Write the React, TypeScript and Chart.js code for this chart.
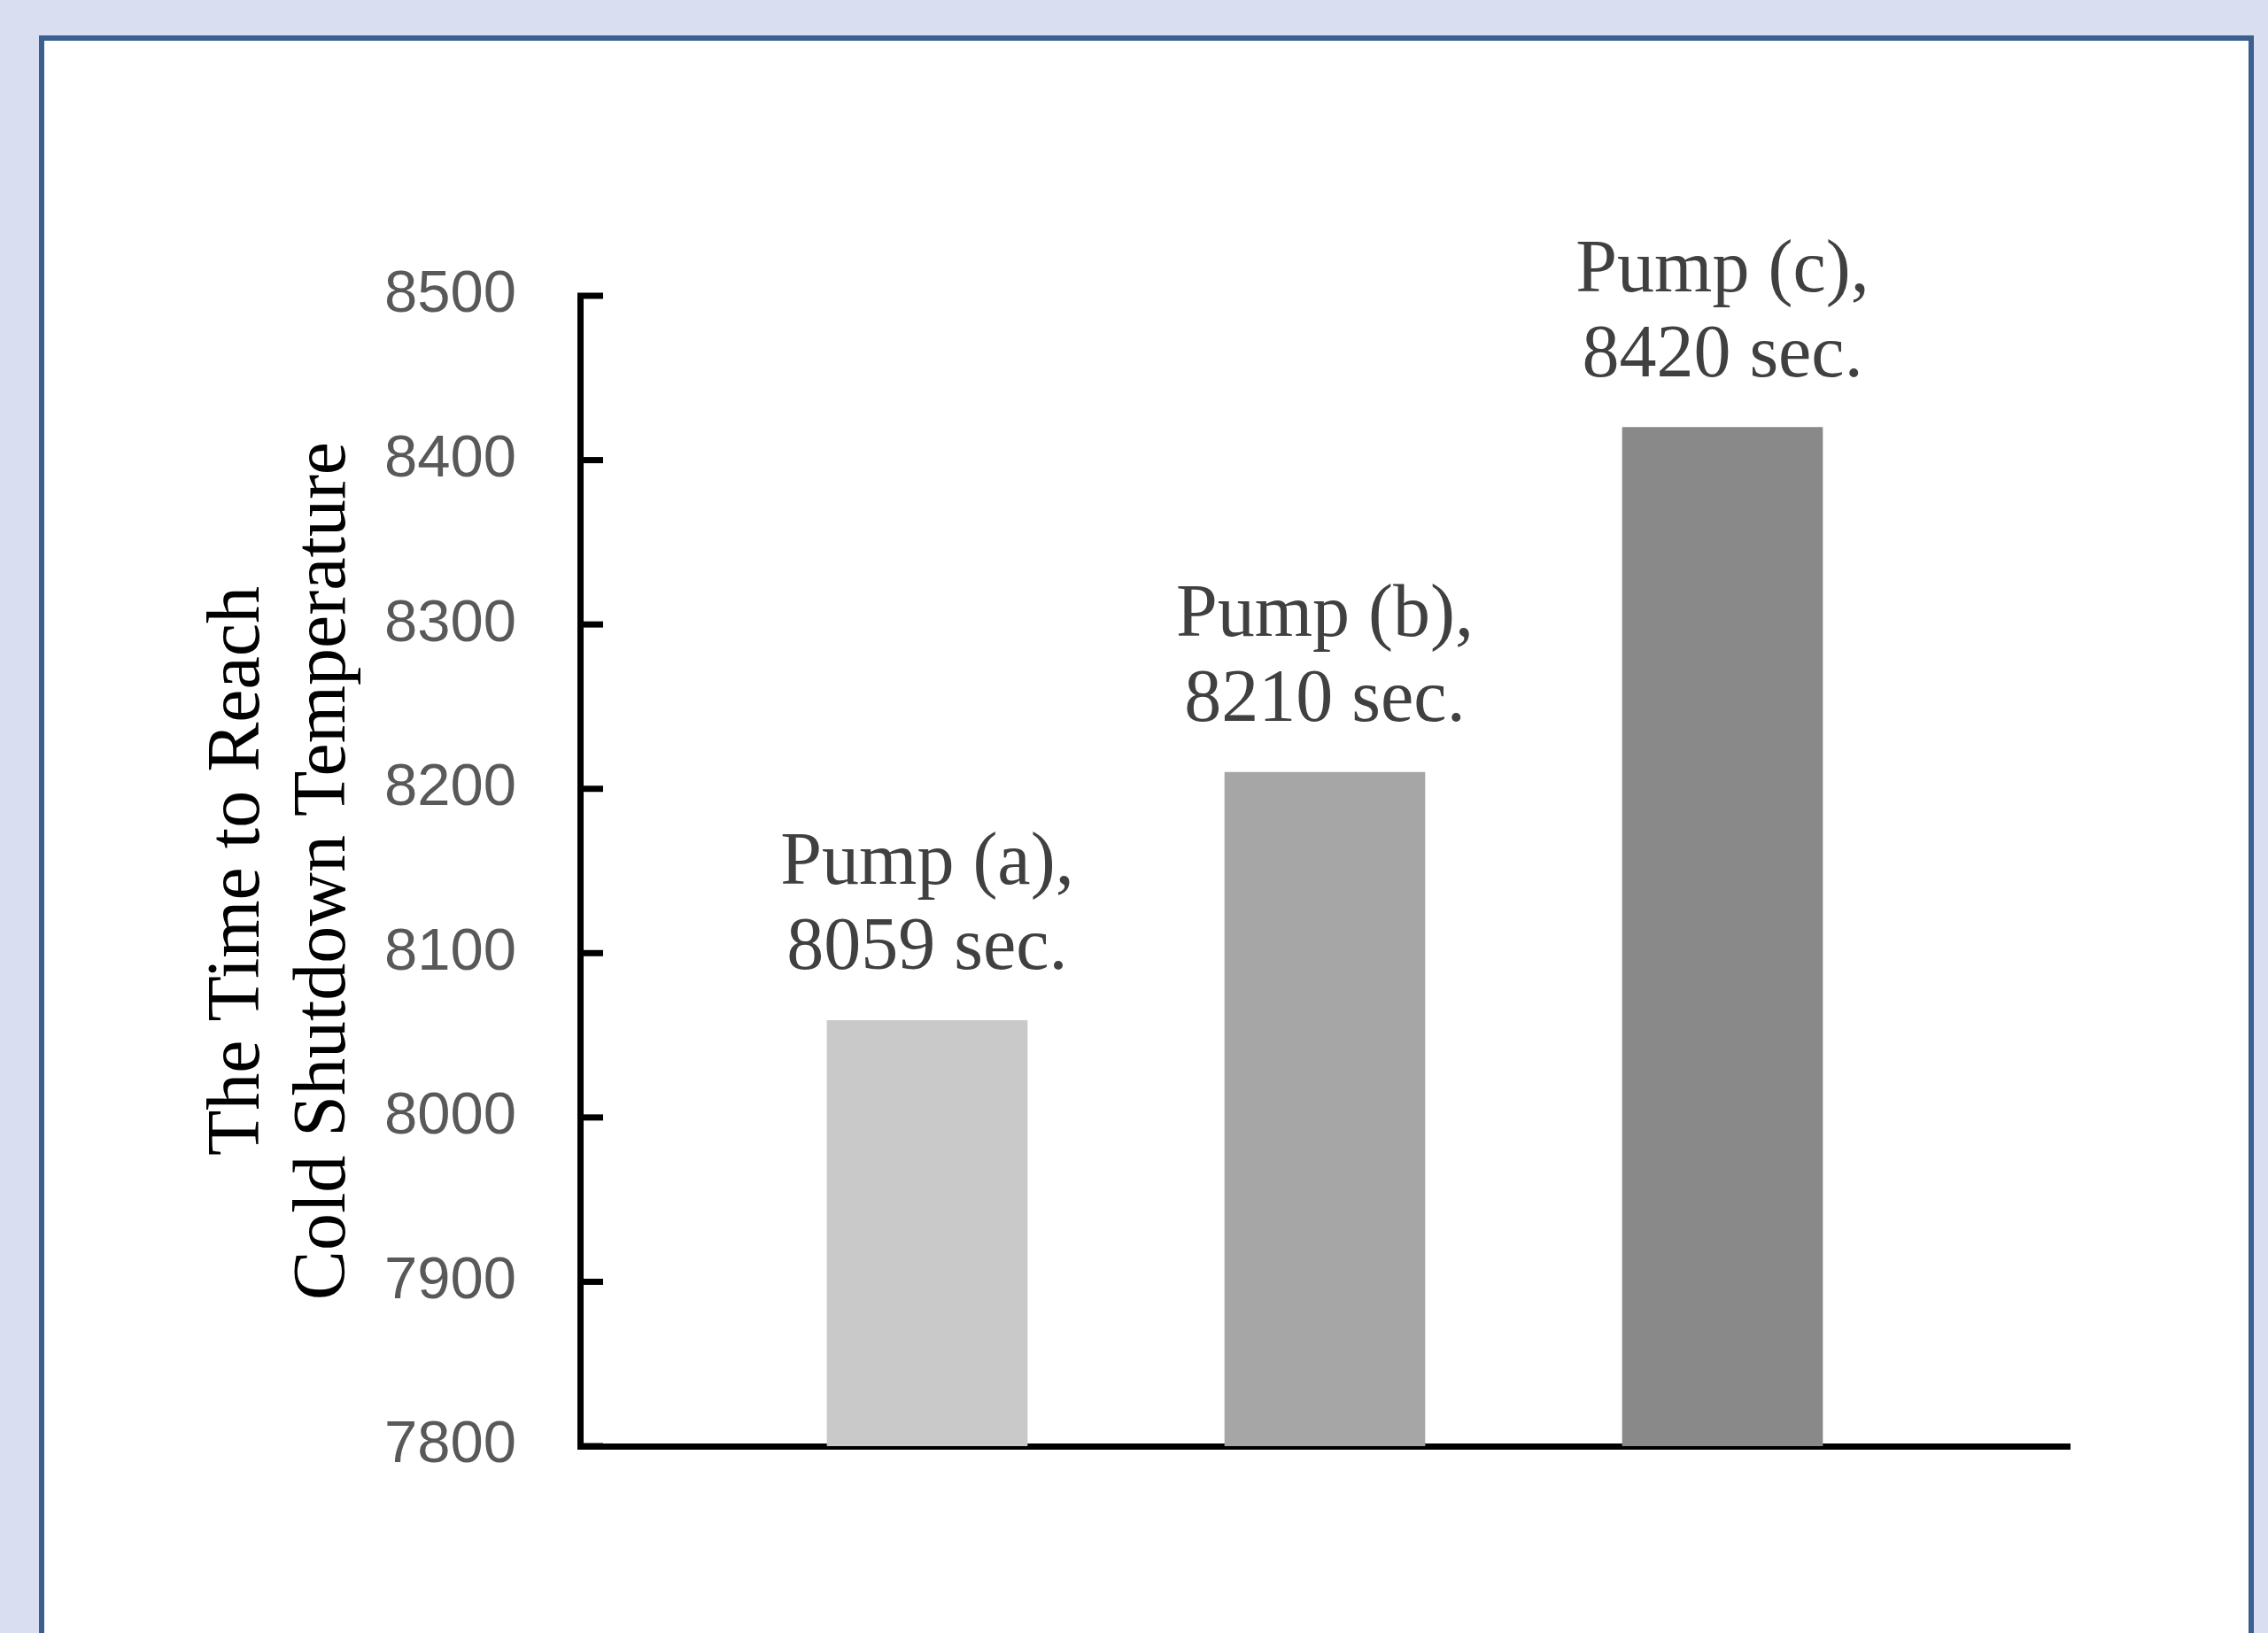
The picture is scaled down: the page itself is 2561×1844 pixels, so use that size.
import React, { useEffect, useRef } from 'react';
import { Chart, registerables } from 'chart.js';

Chart.register(...registerables);

const categories = ['Pump (a)', 'Pump (b)', 'Pump (c)'];
const positions = [1, 2, 3];
const values = [8059, 8210, 8420];
const barColors = ['#C9C9C9', '#A6A6A6', '#898989'];
const yMin = 7800;
const yMax = 8500;
const yStep = 100;
const yTitle = ['The Time to Reach', 'Cold Shutdown Temperature'];
const unit = 'sec.';

const W = 2561;
const H = 1844;

const insideTicksPlugin = {
  id: 'insideTicks',
  afterDraw(chart: any) {
    const y = chart.scales.y;
    const ctx = chart.ctx;
    const left = chart.chartArea.left;
    ctx.save();
    ctx.strokeStyle = '#000000';
    ctx.lineWidth = 7;
    y.ticks.forEach((t: any) => {
      const py = y.getPixelForValue(t.value);
      ctx.beginPath();
      ctx.moveTo(left - 3, py);
      ctx.lineTo(left + 26, py);
      ctx.stroke();
    });
    ctx.restore();
  },
};

const barLabelsPlugin = {
  id: 'barLabels',
  afterDatasetsDraw(chart: any) {
    const ctx = chart.ctx;
    const meta = chart.getDatasetMeta(0);
    ctx.save();
    ctx.font = '84px "Liberation Serif", "Times New Roman", serif';
    ctx.fillStyle = '#404040';
    ctx.textAlign = 'center';
    ctx.textBaseline = 'middle';
    meta.data.forEach((bar: any, i: number) => {
      const x = bar.x;
      const top = bar.y;
      ctx.fillText(categories[i] + ',', x, top - 176);
      ctx.fillText(values[i] + ' ' + unit, x, top - 80);
    });
    ctx.restore();
  },
};

export default function App() {
  const ref = useRef<HTMLCanvasElement | null>(null);

  useEffect(() => {
    if (!ref.current) return;
    const chart = new Chart(ref.current, {
      type: 'bar',
      data: {
        datasets: [
          {
            data: values.map((v, i) => ({ x: positions[i], y: v })),
            backgroundColor: barColors,
            borderWidth: 0,
            barThickness: 226,
          },
        ],
      },
      options: {
        responsive: false,
        animation: false,
        devicePixelRatio: 1,
        layout: { padding: { left: 0, top: 334, right: 224, bottom: 0 } },
        plugins: {
          legend: { display: false },
          tooltip: { enabled: false },
        },
        scales: {
          x: {
            type: 'linear',
            min: 0.127,
            max: 3.873,
            offset: false,
            grid: { display: false, drawTicks: false },
            border: { display: true, color: '#000000', width: 7 },
            ticks: { display: false },
            afterFit(scale: any) {
              scale.height = 211;
              scale.paddingLeft = 0;
              scale.paddingRight = 0;
            },
          },
          y: {
            type: 'linear',
            min: yMin,
            max: yMax,
            grid: { display: false, drawTicks: false },
            border: { display: true, color: '#000000', width: 7 },
            ticks: {
              stepSize: yStep,
              padding: 72,
              color: '#595959',
              font: { family: '"Liberation Sans", Arial, sans-serif', size: 67 },
              callback: (v: any) => String(v),
            },
            title: {
              display: true,
              text: yTitle,
              color: '#000000',
              font: { family: '"Liberation Serif", "Times New Roman", serif', size: 84, lineHeight: 1.15 },
              padding: { top: 222, bottom: 0 },
            },
            afterFit(scale: any) {
              scale.width = 655;
              scale.paddingTop = 0;
              scale.paddingBottom = 0;
            },
          },
        },
      },
      plugins: [insideTicksPlugin, barLabelsPlugin],
    } as any);
    return () => chart.destroy();
  }, []);

  return (
    <div
      style={{
        position: 'absolute',
        left: 0,
        top: 0,
        width: W,
        height: H,
        overflow: 'hidden',
        background: '#D9DFF1',
      }}
    >
      <div
        style={{
          position: 'absolute',
          left: 44,
          top: 40,
          width: 2501,
          height: 1900,
          boxSizing: 'border-box',
          border: '6px solid #3B5F8E',
          background: '#FFFFFF',
        }}
      />
      <canvas
        ref={ref}
        width={W}
        height={H}
        style={{ position: 'absolute', left: 0, top: 0, width: W, height: H }}
      />
    </div>
  );
}
